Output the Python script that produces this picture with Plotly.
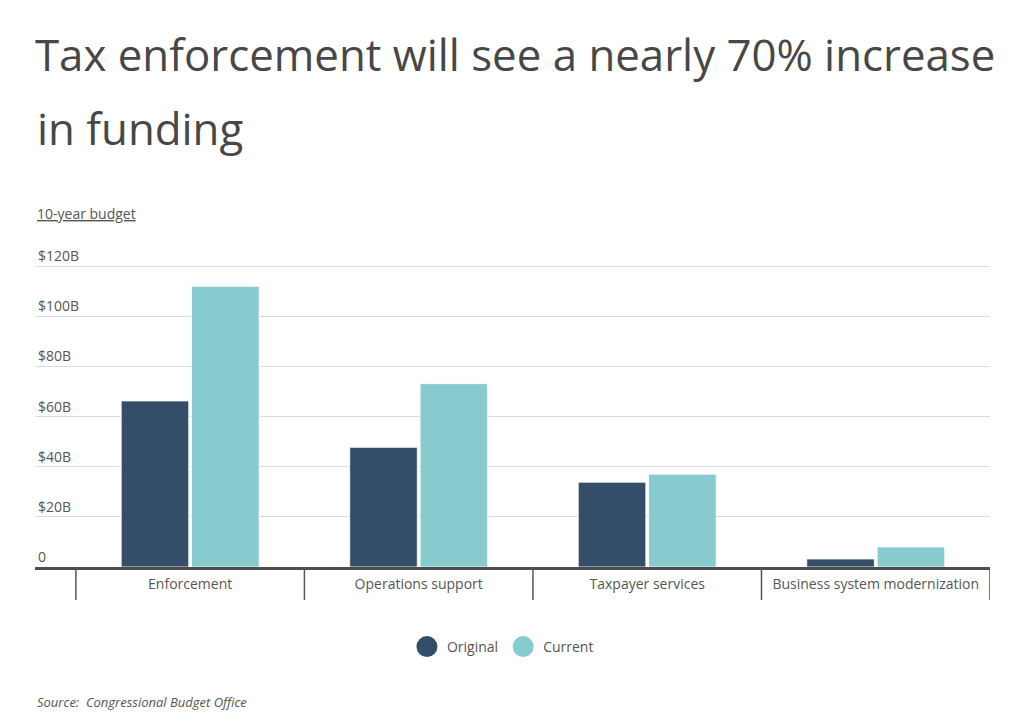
import plotly.graph_objects as go

categories = ["Enforcement", "Operations support", "Taxpayer services", "Business system modernization"]
original = [66.2, 47.7, 33.8, 3.2]
current = [111.9, 73.1, 37.0, 8.0]
y_ticks = [0, 20, 40, 60, 80, 100, 120]
y_tick_labels = ["0", "$20B", "$40B", "$60B", "$80B", "$100B", "$120B"]

DARK = "#344e69"
LIGHT = "#87cbcf"
TEXT = "#555555"
FONT = "Open Sans"

W, H = 1016, 707  # page adds an 8px body margin
T, B = 238, 148
plot_h = H - T - B       # 321 px
bottom = H - B           # plot bottom in figure pixels


def py(page_y):
    """page pixel -> paper fraction"""
    return (bottom - (page_y - 8)) / plot_h


fig = go.Figure()
fig.add_trace(go.Bar(x=categories, y=original, name="Original",
                     marker=dict(color=DARK, line=dict(color="white", width=0.8)), showlegend=False))
fig.add_trace(go.Bar(x=categories, y=current, name="Current",
                     marker=dict(color=LIGHT, line=dict(color="white", width=0.8)), showlegend=False))
# legend entries with circular symbols
for name, col in [("Original", DARK), ("Current", LIGHT)]:
    fig.add_trace(go.Scatter(x=[None], y=[None], mode="markers", name=name,
                             marker=dict(symbol="circle", size=16, color=col, line=dict(color=col, width=5))))

# category separators below the axis
for i in range(len(categories) + 1):
    fig.add_shape(type="line", xref="x", yref="paper", x0=i - 0.5, x1=i - 0.5, y0=0, y1=-33 / plot_h,
                  line=dict(color="#555555", width=1.5))

fig.update_layout(
    width=W, height=H,
    margin=dict(l=27, r=34, t=T, b=B),
    paper_bgcolor="white", plot_bgcolor="white",
    font=dict(family=FONT, color=TEXT, size=14),
    barmode="group", bargap=0.384, bargroupgap=0.04,
    title=dict(text="Tax enforcement will see a nearly 70% increase",
               x=0, xref="paper", xanchor="left", yref="container", y=1 - 32.4 / H, yanchor="top",
               font=dict(family=FONT, size=43.8, color="#474747")),
    xaxis=dict(range=[-0.679, 3.5], showline=True, linecolor="#4d4d4d", linewidth=2.5,
               showgrid=False, ticks="", tickfont=dict(size=14, color=TEXT), ticklabelstandoff=2),
    yaxis=dict(range=[0, 120 * plot_h / 301], tickvals=y_ticks, ticktext=y_tick_labels,
               ticklabelposition="inside top",
               showgrid=True, gridcolor="#dcdcdc", gridwidth=1.3, zeroline=False, showline=False,
               ticks="", tickfont=dict(size=14, color=TEXT)),
    legend=dict(orientation="h", x=0.49, xanchor="center", y=py(647), yanchor="middle",
                font=dict(size=14, color=TEXT), itemwidth=30, tracegroupgap=0),
    annotations=[
        dict(text="in funding", xref="paper", yref="paper", x=0, y=py(127.5),
             xanchor="left", yanchor="middle", showarrow=False,
             font=dict(family=FONT, size=43.8, color="#474747")),
        dict(text="<u>10-year budget</u>", xref="paper", yref="paper", x=0, y=py(213),
             xanchor="left", yanchor="middle", showarrow=False, font=dict(size=14, color=TEXT)),
        dict(text="<i>Source:&nbsp; Congressional Budget Office</i>", xref="paper", yref="paper", x=0,
             y=py(702), xanchor="left", yanchor="middle", showarrow=False,
             font=dict(size=13, color=TEXT)),
    ],
)

fig.write_html("out.html")
